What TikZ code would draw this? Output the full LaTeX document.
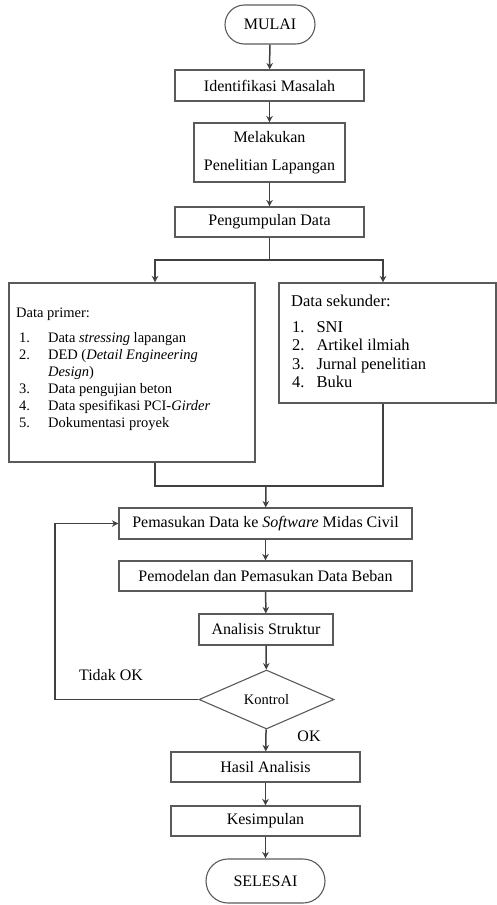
\documentclass[tikz,border=0pt]{standalone}
\usepackage{fontspec}
\setmainfont{Liberation Serif}
\usepackage{tikz}
\usetikzlibrary{shapes.geometric, shapes.misc, arrows.meta, positioning}
\definecolor{linegray}{RGB}{64, 64, 64}
\definecolor{boxgray}{RGB}{90, 90, 90}
\newcommand{\boxfont}{\fontsize{16}{19}\selectfont}
\tikzstyle{process} = [rectangle, draw=boxgray, line width=1.1pt, inner sep=0pt, text centered, align=center, font=\boxfont]
\tikzstyle{terminal} = [rounded rectangle, draw=boxgray, line width=1.1pt, inner sep=0pt, text centered, font=\boxfont]
\tikzstyle{decision} = [diamond, draw=boxgray, line width=1.1pt, inner sep=0pt, text centered, font=\fontsize{14.5}{17}\selectfont]
\tikzstyle{databox} = [rectangle, draw=boxgray, line width=1.1pt, inner sep=0pt]
\tikzstyle{listtext} = [inner sep=0pt, align=left, anchor=north west]
\tikzstyle{connector} = [line width=1.5pt, draw=linegray]
\tikzstyle{arrow} = [connector, -{Stealth[length=6.5pt, width=6.5pt]}]

\begin{document}
\begin{tikzpicture}[x=1pt, y=-1pt]
    \useasboundingbox (0, 0) rectangle (497, 905);

    % Main flow
    \node[terminal, minimum width=90pt, minimum height=39pt] (mulai) at (270, 24.5) {MULAI};
    \node[process, minimum width=189pt, minimum height=31pt] (ident) at (269.5, 85.5) {Identifikasi Masalah};
    \node[process, minimum width=151pt, minimum height=59pt] (survei) at (269.5, 152.5) {Melakukan\\[9pt]Penelitian Lapangan};
    \node[process, minimum width=189pt, minimum height=30pt] (kumpul) at (269.5, 222) {Pengumpulan Data};

    % Data boxes
    \node[databox, minimum width=246pt, minimum height=179pt] (primer) at (132, 372.5) {};
    \node[databox, minimum width=217pt, minimum height=120pt] (sekunder) at (387.5, 343) {};
    \node[listtext, font=\fontsize{14.5}{17}\selectfont] (primertext) at (16, 307.5) {Data primer:\\[8pt]
        \begin{tabular}[t]{@{\hspace{3pt}}l@{\hspace{18pt}}l@{}}
            1. & Data \textit{stressing} lapangan\\
            2. & DED (\textit{Detail Engineering}\\
               & \textit{Design})\\
            3. & Data pengujian beton\\
            4. & Data spesifikasi PCI-\textit{Girder}\\
            5. & Dokumentasi proyek
        \end{tabular}};
    \node[listtext, font=\fontsize{16.5}{18.5}\selectfont] (sekundertext) at (291, 294.5) {Data sekunder:\\[7.5pt]
        \begin{tabular}[t]{@{\hspace{1pt}}l@{\hspace{12pt}}l@{}}
            1. & SNI\\
            2. & Artikel ilmiah\\
            3. & Jurnal penelitian\\
            4. & Buku
        \end{tabular}};

    % Analysis
    \node[process, minimum width=293pt, minimum height=31pt] (input) at (265.5, 523.5) {Pemasukan Data ke \textit{Software} Midas Civil};
    \node[process, minimum width=293pt, minimum height=30pt] (model) at (265.5, 576) {Pemodelan dan Pemasukan Data Beban};
    \node[process, minimum width=134pt, minimum height=31pt] (analisis) at (266, 629.5) {Analisis Struktur};
    \node[decision, minimum width=135pt, minimum height=59pt] (kontrol) at (266.5, 699.5) {Kontrol};
    \node[process, minimum width=189pt, minimum height=30pt] (hasil) at (265.5, 767) {Hasil Analisis};
    \node[process, minimum width=189pt, minimum height=30pt] (simpulan) at (265.5, 821) {Kesimpulan};
    \node[terminal, minimum width=119pt, minimum height=44pt] (selesai) at (265.5, 881) {SELESAI};

    % Labels
    \node[font=\boxfont] (tidakok) at (111, 675) {Tidak OK};
    \node[font=\boxfont] (ok) at (309, 736) {OK};

    % Connectors
    \coordinate (split) at (269.5, 260);
    \coordinate (merge) at (266, 486);
    \coordinate (loop) at (55, 0);
    \draw[arrow] (mulai) -- (ident);
    \draw[arrow] (ident) -- (survei);
    \draw[arrow] (survei) -- (kumpul);
    \draw[connector] (kumpul.south) -- (split);
    \draw[arrow] (split) -| ([xshift=23pt]primer.north);
    \draw[arrow] (split) -| ([xshift=-4.5pt]sekunder.north);
    \draw[connector] ([xshift=23pt]primer.south) |- (merge);
    \draw[connector] ([xshift=-4.5pt]sekunder.south) |- (merge);
    \draw[arrow] (merge) -- (input);
    \draw[arrow] (input) -- (model);
    \draw[arrow] (model) -- (analisis);
    \draw[arrow] (analisis) -- (kontrol);
    \draw[arrow] (kontrol) -- (hasil);
    \draw[arrow] (hasil) -- (simpulan);
    \draw[arrow] (simpulan) -- (selesai);
    \draw[arrow] (kontrol.west) -- (kontrol.west -| loop) |- (input.west);
\end{tikzpicture}
\end{document}
